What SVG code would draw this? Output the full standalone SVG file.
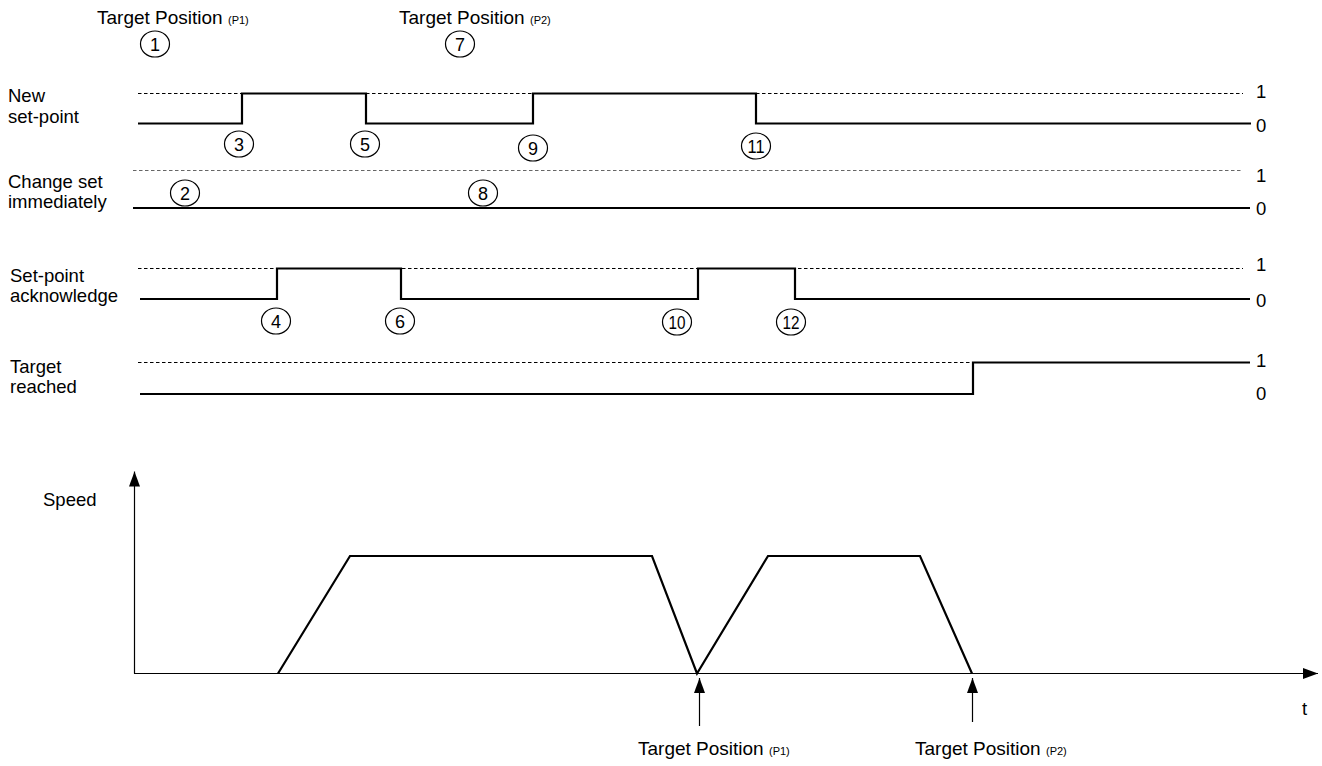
<svg xmlns="http://www.w3.org/2000/svg" width="1322" height="766" viewBox="0 0 1322 766">
<style>
text{font-family:"Liberation Sans",Arial,sans-serif;fill:#000}
.lbl{font-size:18.5px}
.ttl{font-size:19px}
.sub{font-size:11px}
.num{font-size:18px;text-anchor:middle}
.dash{stroke:#000;stroke-width:1;stroke-dasharray:3.5 2.5;fill:none}
.sig{stroke:#000;stroke-width:2.2;fill:none;stroke-linejoin:miter}
.axis{stroke:#000;stroke-width:1.2;fill:none}
.mk{fill:none;stroke:#000;stroke-width:1.2}
</style>
<defs>
<marker id="arr" viewBox="0 0 15 11" refX="15" refY="5.5" markerWidth="15" markerHeight="11" markerUnits="userSpaceOnUse" orient="auto">
<path d="M0,0 L15,5.5 L0,11 Z" fill="#000"/>
</marker>
</defs>
<rect width="1322" height="766" fill="#fff"/>

<g id="top-labels">
<text class="ttl" x="97" y="24">Target Position <tspan class="sub">(P1)</tspan></text>
<text class="ttl" x="399" y="24">Target Position <tspan class="sub">(P2)</tspan></text>
</g>

<g id="row-new-setpoint">
<text class="lbl" x="8" y="101.5">New</text>
<text class="lbl" x="8" y="123">set-point</text>
<line class="dash" x1="138" y1="93.5" x2="1243" y2="93.5"/>
<path class="sig" d="M138,123.5 H242 V93.5 H366 V123.5 H533 V93.5 H756 V123.5 H1251"/>
<text class="lbl" x="1256" y="98">1</text>
<text class="lbl" x="1256" y="131.5">0</text>
</g>

<g id="row-change-set">
<text class="lbl" x="8" y="188">Change set</text>
<text class="lbl" x="8" y="208">immediately</text>
<line class="dash" x1="133" y1="170.5" x2="1243" y2="170.5" stroke-opacity="0.6"/>
<path class="sig" d="M133,208 H1250"/>
<text class="lbl" x="1256" y="182">1</text>
<text class="lbl" x="1256" y="215">0</text>
</g>

<g id="row-ack">
<text class="lbl" x="10" y="281.5">Set-point</text>
<text class="lbl" x="10" y="301.5">acknowledge</text>
<line class="dash" x1="138" y1="268.5" x2="1243" y2="268.5"/>
<path class="sig" d="M140,299 H277 V268.5 H401 V299 H698 V268.5 H795 V299 H1250"/>
<text class="lbl" x="1256" y="271">1</text>
<text class="lbl" x="1256" y="306.5">0</text>
</g>

<g id="row-target-reached">
<text class="lbl" x="10" y="372.5">Target</text>
<text class="lbl" x="10" y="393">reached</text>
<line class="dash" x1="138" y1="362.5" x2="973" y2="362.5"/>
<path class="sig" d="M140,394 H973 V362.5 H1250"/>
<text class="lbl" x="1256" y="367">1</text>
<text class="lbl" x="1256" y="400">0</text>
</g>

<g id="markers">
<g id="m1"><ellipse class="mk" cx="155" cy="44" rx="14.5" ry="13"/><text class="num" x="155" y="50.5">1</text></g>
<g id="m2"><ellipse class="mk" cx="185" cy="193" rx="14.5" ry="13"/><text class="num" x="185" y="199.5">2</text></g>
<g id="m3"><ellipse class="mk" cx="239" cy="144" rx="14.5" ry="13"/><text class="num" x="239" y="150.5">3</text></g>
<g id="m4"><ellipse class="mk" cx="276" cy="321" rx="14.5" ry="13"/><text class="num" x="276" y="327.5">4</text></g>
<g id="m5"><ellipse class="mk" cx="365" cy="144" rx="14.5" ry="13"/><text class="num" x="365" y="150.5">5</text></g>
<g id="m6"><ellipse class="mk" cx="400" cy="321" rx="14.5" ry="13"/><text class="num" x="400" y="327.5">6</text></g>
<g id="m7"><ellipse class="mk" cx="460" cy="44" rx="14.5" ry="13"/><text class="num" x="460" y="50.5">7</text></g>
<g id="m8"><ellipse class="mk" cx="483" cy="193" rx="14.5" ry="13"/><text class="num" x="483" y="199.5">8</text></g>
<g id="m9"><ellipse class="mk" cx="533" cy="148" rx="14.5" ry="13"/><text class="num" x="533" y="154.5">9</text></g>
<g id="m10"><ellipse class="mk" cx="677" cy="322" rx="14.5" ry="13"/><text class="num" x="677" y="328.5" textLength="17" lengthAdjust="spacingAndGlyphs">10</text></g>
<g id="m11"><ellipse class="mk" cx="756" cy="146" rx="14.5" ry="13"/><text class="num" x="756" y="152.5" textLength="17" lengthAdjust="spacingAndGlyphs">11</text></g>
<g id="m12"><ellipse class="mk" cx="791" cy="322" rx="14.5" ry="13"/><text class="num" x="791" y="328.5" textLength="17" lengthAdjust="spacingAndGlyphs">12</text></g>
</g>

<g id="speed-graph">
<text class="lbl" x="43" y="506">Speed</text>
<text class="lbl" x="1302" y="715">t</text>
<path class="sig" d="M278,673.5 L350,556 L652,556 L697,673.5 L768,556 L920,556 L972,673.5"/>
</g>

<g id="connectors">
<line class="axis" x1="134.5" y1="673.5" x2="134.5" y2="471.5" marker-end="url(#arr)"/>
<line class="axis" x1="134" y1="673.5" x2="1318" y2="673.5" marker-end="url(#arr)"/>
<line class="axis" x1="699.5" y1="726" x2="699.5" y2="678" marker-end="url(#arr)"/>
<line class="axis" x1="972.5" y1="722" x2="972.5" y2="678" marker-end="url(#arr)"/>
</g>

<g id="bottom-labels">
<text class="ttl" x="638" y="755">Target Position <tspan class="sub">(P1)</tspan></text>
<text class="ttl" x="915" y="755">Target Position <tspan class="sub">(P2)</tspan></text>
</g>
</svg>
